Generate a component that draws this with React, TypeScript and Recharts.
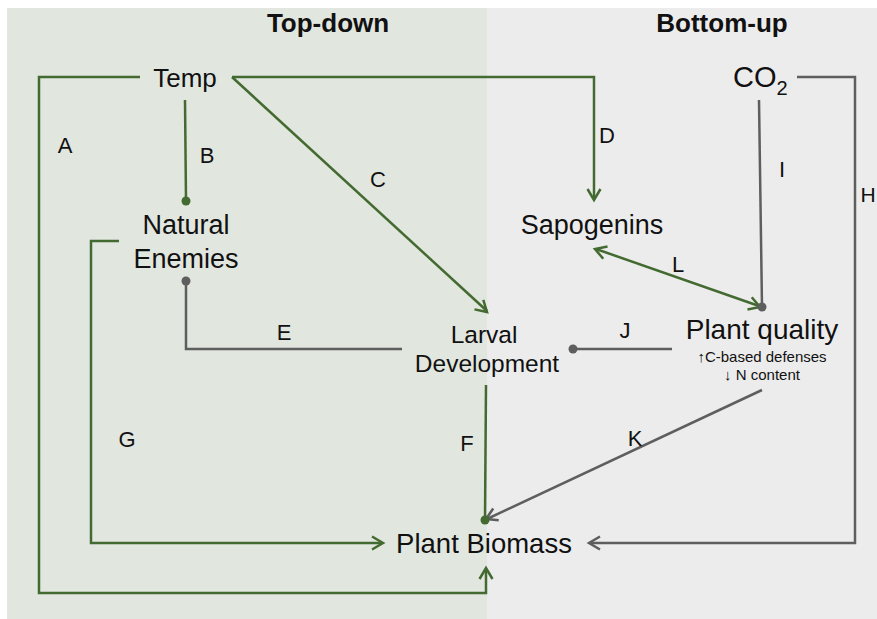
import React from 'react';
import { ComposedChart, XAxis, YAxis, Line, Scatter, ReferenceArea } from 'recharts';

const W = 877;
const H = 619;
const FONT = '"Liberation Sans", Arial, Helvetica, sans-serif';
const GREEN = '#436a30';
const GRAY = '#5e5e5e';

// panel bands (x extents)
const bandNames = ['Top-down', 'Bottom-up'];
const bandX = [[7, 487], [487, 877]];
const bandTop = 8;

// panel headers: [text, x, baseline]
const headers = [
  { label: 'Top-down', x: 328, y: 32 },
  { label: 'Bottom-up', x: 722, y: 32 },
];

// diagram nodes (text centre x, baseline y, font size)
const nodes = [
  { label: 'Temp', x: 185, y: 87, fs: 26 },
  { label: 'Natural', x: 186, y: 234, fs: 27 },
  { label: 'Enemies', x: 186, y: 268, fs: 27 },
  { label: 'Sapogenins', x: 592, y: 234, fs: 27 },
  { label: 'Larval', x: 484, y: 343, fs: 24.5 },
  { label: 'Development', x: 487, y: 372, fs: 24.5 },
  { label: 'Plant quality', x: 762, y: 339, fs: 28 },
  { label: '↑C-based defenses', x: 762, y: 362, fs: 15 },
  { label: '↓ N content', x: 762, y: 380, fs: 15 },
  { label: 'Plant Biomass', x: 484, y: 553, fs: 27.5 },
];

const co2 = [{ label: 'CO', sub: '2', x: 733, y: 87 }];

// path letters
const letters = [
  { label: 'A', x: 65, y: 153, fs: 22 },
  { label: 'B', x: 207, y: 163, fs: 22 },
  { label: 'C', x: 378, y: 187, fs: 22 },
  { label: 'D', x: 607, y: 143, fs: 22 },
  { label: 'E', x: 284, y: 340, fs: 22 },
  { label: 'F', x: 467, y: 451, fs: 22 },
  { label: 'G', x: 127, y: 447, fs: 22 },
  { label: 'H', x: 868, y: 202, fs: 21 },
  { label: 'I', x: 782, y: 177, fs: 22 },
  { label: 'J', x: 625, y: 338, fs: 22 },
  { label: 'K', x: 635, y: 446, fs: 22 },
  { label: 'L', x: 678, y: 272, fs: 22 },
];

// edges (polylines), green = top-down, gray = bottom-up
const greenPaths: number[][][] = [
  [[140, 77], [39, 77], [39, 593], [486, 593], [486, 569]], // A
  [[185, 100], [186, 201]], // B
  [[232, 77], [487, 311]], // C
  [[232, 77], [594, 77], [594, 199]], // D
  [[486, 385], [485, 520]], // F
  [[119, 241], [91, 241], [91, 543], [382, 543]], // G
  [[596, 249], [759, 306]], // L
];
const grayPaths: number[][][] = [
  [[186, 281], [186, 349], [402, 349]], // E
  [[797, 77], [855, 77], [855, 543], [590, 543]], // H
  [[759, 100], [762, 307]], // I
  [[672, 349], [573, 349]], // J
  [[762, 390], [487, 519]], // K
];

// arrowheads: tip + direction
const greenArrows = [
  { x: 486, y: 568, dx: 0, dy: -1 },
  { x: 487, y: 312, dx: 255, dy: 234 },
  { x: 594, y: 200, dx: 0, dy: 1 },
  { x: 383, y: 543, dx: 1, dy: 0 },
  { x: 595, y: 249, dx: -163, dy: -57 },
  { x: 760, y: 307, dx: 163, dy: 57 },
];
const grayArrows = [
  { x: 589, y: 543, dx: -1, dy: 0 },
  { x: 486, y: 519, dx: -275, dy: 129 },
];

// end dots
const greenDots = [{ x: 186, y: 201 }, { x: 485, y: 520 }];
const grayDots = [{ x: 186, y: 281 }, { x: 573, y: 349 }, { x: 762, y: 307 }];

const toPts = (p: number[][]) => p.map(([x, y]) => ({ x, y }));

const arrowShape = (color: string) => (props: any) => {
  const { cx, cy, payload } = props;
  const len = Math.hypot(payload.dx, payload.dy);
  const ux = payload.dx / len;
  const uy = payload.dy / len;
  const L = 11;
  const Wd = 6.5;
  const bx = cx - ux * L;
  const by = cy - uy * L;
  const px = -uy;
  const py = ux;
  return (
    <path
      d={`M${bx + px * Wd},${by + py * Wd} L${cx},${cy} L${bx - px * Wd},${by - py * Wd}`}
      fill="none"
      stroke={color}
      strokeWidth={2.5}
      strokeLinejoin="miter"
    />
  );
};

const dotShape = (color: string) => (props: any) => (
  <circle cx={props.cx} cy={props.cy} r={4.5} fill={color} />
);

const nodeShape = (props: any) => (
  <text x={props.cx} y={props.cy} textAnchor="middle" fontFamily={FONT} fontSize={props.payload.fs} fill="#111">
    {props.payload.label}
  </text>
);

const headerShape = (props: any) => (
  <text x={props.cx} y={props.cy} textAnchor="middle" fontFamily={FONT} fontSize={26} fontWeight="bold" fill="#111">
    {props.payload.label}
  </text>
);

const co2Shape = (props: any) => (
  <text x={props.cx} y={props.cy} textAnchor="start" fontFamily={FONT} fontSize={29} fill="#111">
    <tspan>{props.payload.label}</tspan>
    <tspan dy={8} fontSize={20}>{props.payload.sub}</tspan>
  </text>
);

export default function App() {
  return (
    <div style={{ position: 'absolute', left: 0, top: 0, width: W, height: H, background: '#fff' }}>
      <ComposedChart width={W} height={H} margin={{ top: 0, right: 0, bottom: 0, left: 0 }}>
        <XAxis type="number" dataKey="x" domain={[0, W]} allowDataOverflow hide />
        <YAxis type="number" dataKey="y" domain={[0, H]} allowDataOverflow reversed hide />
        {bandX.map(([x1, x2], i) => (
          <ReferenceArea
            key={bandNames[i]}
            x1={x1}
            x2={x2}
            y1={bandTop}
            y2={H}
            fill={i === 0 ? '#e1e6df' : '#ececec'}
            fillOpacity={1}
            stroke="none"
            ifOverflow="visible"
          />
        ))}
        {greenPaths.map((p, i) => (
          <Line key={'g' + i} data={toPts(p)} dataKey="y" type="linear" stroke={GREEN} strokeWidth={2.5} dot={false} activeDot={false} isAnimationActive={false} strokeLinejoin="miter" />
        ))}
        {grayPaths.map((p, i) => (
          <Line key={'k' + i} data={toPts(p)} dataKey="y" type="linear" stroke={GRAY} strokeWidth={2.5} dot={false} activeDot={false} isAnimationActive={false} strokeLinejoin="miter" />
        ))}
        <Scatter data={greenArrows} dataKey="y" shape={arrowShape(GREEN)} isAnimationActive={false} />
        <Scatter data={grayArrows} dataKey="y" shape={arrowShape(GRAY)} isAnimationActive={false} />
        <Scatter data={greenDots} dataKey="y" shape={dotShape(GREEN)} isAnimationActive={false} />
        <Scatter data={grayDots} dataKey="y" shape={dotShape(GRAY)} isAnimationActive={false} />
        <Scatter data={nodes} dataKey="y" shape={nodeShape} isAnimationActive={false} />
        <Scatter data={headers} dataKey="y" shape={headerShape} isAnimationActive={false} />
        <Scatter data={letters} dataKey="y" shape={nodeShape} isAnimationActive={false} />
        <Scatter data={co2} dataKey="y" shape={co2Shape} isAnimationActive={false} />
      </ComposedChart>
    </div>
  );
}
